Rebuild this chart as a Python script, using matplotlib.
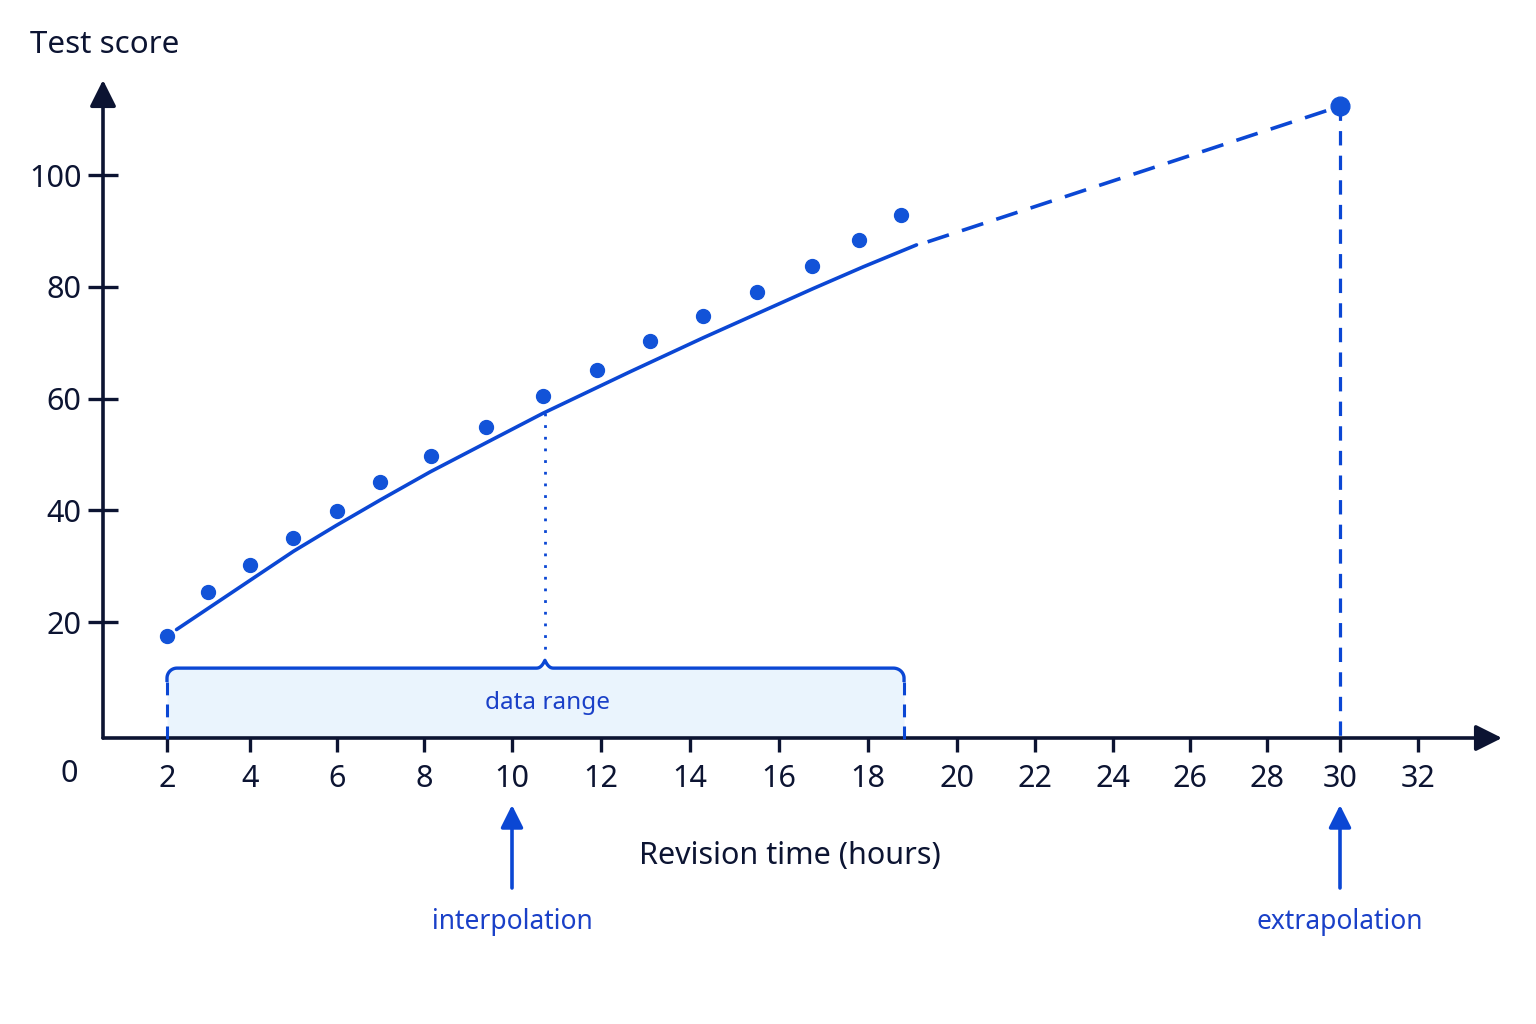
import numpy as np
import matplotlib
matplotlib.use("Agg")
import matplotlib.pyplot as plt

# observed scores
hours = [2, 3, 4, 5, 6, 7, 8.15, 9.4, 10.7, 11.9, 13.1, 14.3, 15.5, 16.75, 17.8, 18.75]
scores = [17.5, 25.4, 30.2, 35.1, 39.9, 45.1, 49.7, 54.9, 60.5, 65.1, 70.3, 74.8, 79.1, 83.8, 88.4, 92.8]

# fitted curve inside the data range
fit_hours = [2.23, 5.0, 5.98, 7.0, 8.14, 9.41, 10.7, 12.65, 14.3, 16.77, 17.9, 19.09]
fit_scores = [18.7, 32.7, 37.3, 41.9, 46.9, 52.1, 57.4, 64.8, 70.9, 79.7, 83.6, 87.5]

# extrapolated point
extrap_hour = 30
extrap_score = 112.3

# interpolation read-off and data range
interp_hour = 10.74
interp_score = 57.4
range_lo, range_hi = 2, 18.81
arrow_interp = 10

xticks = list(range(2, 33, 2))
yticks = [20, 40, 60, 80, 100]

BLUE = "#0b47d4"
DOT = "#1253d8"
TEXTBLUE = "#1a40c8"
DARK = "#0c1432"
FILL = "#eaf4fd"

plt.rcParams['font.family'] = ['Noto Sans', 'DejaVu Sans']

# the printed axis is not evenly spaced: tick spacing narrows past 20 h
knot_h = np.array([-20, 2, 4, 6, 8, 10, 12, 14, 16, 18, 20, 22, 24, 26, 28, 30, 32, 60], float)
knot_p = np.array([-746, 167, 250, 337, 424, 512, 601, 690, 779, 868, 957, 1035, 1113, 1190, 1267, 1340, 1418, 2510], float)


def fwd(x):
    return np.interp(x, knot_h, knot_p)


def inv(u):
    return np.interp(u, knot_p, knot_h)


W, H = 1536, 1024
fig = plt.figure(figsize=(W / 100, H / 100), dpi=100)
ax = fig.add_axes([103 / W, 1 - 738 / H, (1502 - 103) / W, (738 - 80) / H])
ax.set_xscale('function', functions=(fwd, inv))
ax.set_xlim(inv(103), inv(1502))
ax.set_ylim(-0.7, 117.0)

for s in ax.spines.values():
    s.set_visible(False)

ax.set_xticks(xticks)
ax.set_yticks(yticks)
ax.tick_params(axis='x', direction='out', length=10, width=2.4, color=DARK,
               labelsize=22, labelcolor=DARK, pad=9)
ax.tick_params(axis='y', direction='inout', length=21, width=2.4, color=DARK,
               labelsize=22, labelcolor=DARK, pad=5)
ax.minorticks_off()

# axis arrows
ax.annotate('', xy=(1, 0), xytext=(0, 0), xycoords='axes fraction',
            arrowprops=dict(arrowstyle='-|>', lw=2.6, color=DARK, mutation_scale=40,
                            shrinkA=0, shrinkB=0), annotation_clip=False)
ax.annotate('', xy=(0, 1), xytext=(0, 0), xycoords='axes fraction',
            arrowprops=dict(arrowstyle='-|>', lw=2.6, color=DARK, mutation_scale=40,
                            shrinkA=0, shrinkB=0), annotation_clip=False)
ax.annotate('0', xy=(0, 0), xycoords='axes fraction', xytext=(-24, -26),
            textcoords='offset points', ha='center', va='center', fontsize=22,
            color=DARK, annotation_clip=False)

# data range brace
r_x = 0.24
r_y = 1.8
top = 11.8
tip = 13.2
side = 9.3
bw = 0.2
t = np.linspace(0, np.pi / 2, 15)
bx = [range_lo]
by = [side]
bx += list(range_lo + r_x - r_x * np.cos(t))
by += list(top - r_y + r_y * np.sin(t))
u = np.linspace(0, 1, 12)
bx += list(interp_hour - bw + bw * u)
by += list(top + (tip - top) * u ** 2.5)
bx += list(interp_hour + bw * u)
by += list(tip - (tip - top) * (1 - (1 - u) ** 2.5))
bx += list(range_hi - r_x + r_x * np.sin(t))
by += list(top - r_y + r_y * np.cos(t))
bx += [range_hi]
by += [side]
bx = np.array(bx)
by = np.array(by)
by_fill = np.where(by > top, top, by)
ax.fill_between(bx, -0.7, by_fill, color=FILL, lw=0, zorder=1)
ax.plot(bx, by, color=BLUE, lw=2.4, solid_capstyle='butt', zorder=3)
for xe in (range_lo, range_hi):
    ax.plot([xe, xe], [side, -2.3], color=BLUE, lw=2.2, ls=(0, (4.2, 3)),
            clip_on=False, zorder=3)
ax.text(10.8, 5.5, 'data range', ha='center', va='center',
        fontsize=17.5, color=TEXTBLUE, zorder=4)

# interpolation read-off
ax.plot([interp_hour, interp_hour], [interp_score, tip + 0.4], color=BLUE, lw=2.0,
        ls=(0, (1, 3.2)), zorder=3)

# fit and extrapolation
ax.plot(fit_hours, fit_scores, color=BLUE, lw=2.6, solid_capstyle='round',
        solid_joinstyle='round', zorder=3)
ax.plot([fit_hours[-1] + 0.25, extrap_hour], [fit_scores[-1] + 0.55, extrap_score],
        color=BLUE, lw=2.6, ls=(0, (6.2, 3.8)), zorder=3)
ax.plot([extrap_hour, extrap_hour], [extrap_score, -0.7], color=BLUE, lw=2.3,
        ls=(0, (4.5, 3.2)), zorder=3)

ax.plot(hours, scores, 'o', color=DOT, ms=10, zorder=5)
ax.plot([extrap_hour], [extrap_score], 'o', color=DOT, ms=13.5, zorder=5, clip_on=False)

# arrows below the axis
for xa, label in ((arrow_interp, 'interpolation'), (extrap_hour, 'extrapolation')):
    ax.annotate('', xy=(xa, 1 - 805 / H), xytext=(xa, 1 - 888 / H),
                xycoords=('data', 'figure fraction'), textcoords=('data', 'figure fraction'),
                arrowprops=dict(arrowstyle='-|>', lw=2.6, color=BLUE, mutation_scale=34,
                                shrinkA=0, shrinkB=0), annotation_clip=False)
    ax.annotate(label, xy=(xa, 1 - 922 / H), xycoords=('data', 'figure fraction'),
                ha='center', va='center', fontsize=19, color=TEXTBLUE,
                annotation_clip=False)

fig.text(30 / W, 1 - 45 / H, 'Test score', ha='left', va='center', fontsize=22.5, color=DARK)
fig.text(790 / W, 1 - 856 / H, 'Revision time (hours)', ha='center', va='center',
         fontsize=22, color=DARK)

fig.savefig('out.png', dpi=100, facecolor='white')
